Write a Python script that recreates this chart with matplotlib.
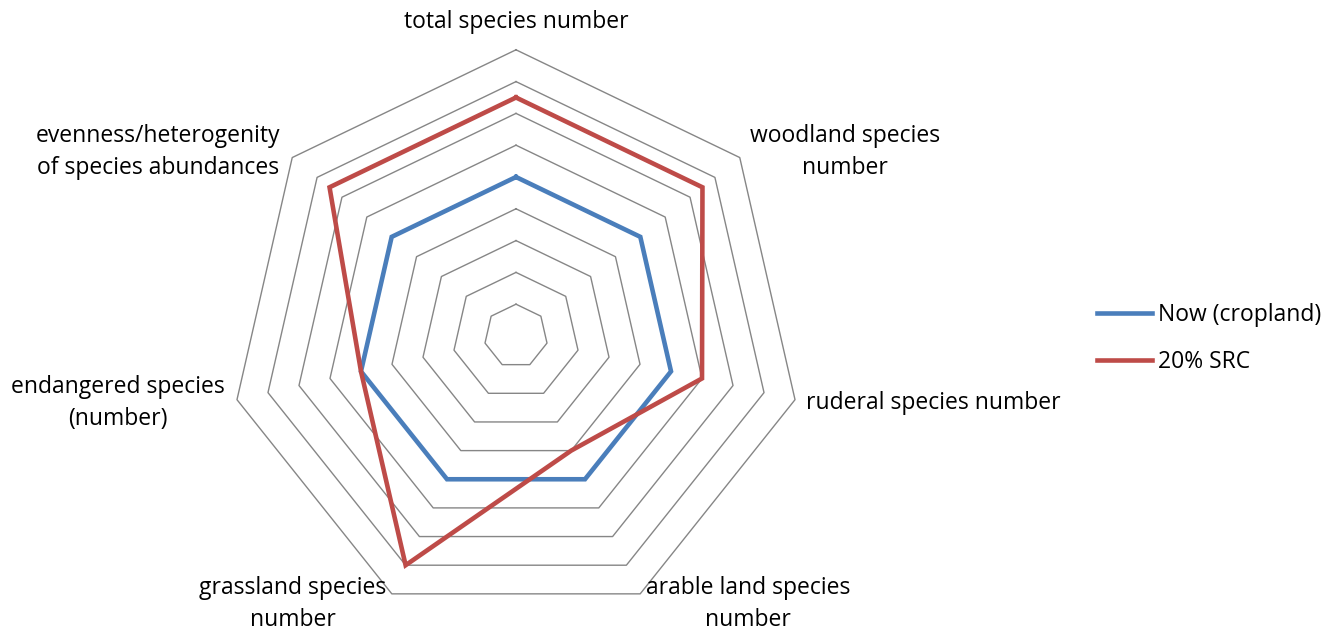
import numpy as np
import matplotlib
matplotlib.use("Agg")
import matplotlib.pyplot as plt

plt.rcParams['font.family'] = ['Open Sans', 'DejaVu Sans']

# categories, clockwise from the top
categories = [
    "total species number",
    "woodland species\nnumber",
    "ruderal species number",
    "arable land species\nnumber",
    "grassland species\nnumber",
    "endangered species\n(number)",
    "evenness/heterogenity\nof species abundances",
]
now_cropland = [5, 5, 5, 5, 5, 5, 5]
src_20 = [7.5, 7.5, 6, 4, 8, 5, 7.5]
series_names = ["Now (cropland)", "20% SRC"]
grid_levels = [1, 2, 3, 4, 5, 6, 7, 8, 9]

W, H = 1327, 632
cx, cy = 516, 336      # chart centre in pixels
unit = 31.8            # pixels per value unit

fig = plt.figure(figsize=(W / 100, H / 100), dpi=100)
ax = fig.add_axes([0, 0, 1, 1])
ax.set_xlim(-cx / unit, (W - cx) / unit)
ax.set_ylim(-(H - cy) / unit, cy / unit)
ax.axis("off")

n = len(categories)
theta = 2 * np.pi * np.arange(n) / n


def to_xy(values):
    v = np.asarray(values, dtype=float)
    v = np.append(v, v[0])
    t = np.append(theta, theta[0])
    return v * np.sin(t), v * np.cos(t)


# polygon gridlines
for lev in grid_levels:
    gx, gy = to_xy([lev] * n)
    ax.plot(gx, gy, color="#868686", lw=1.0, zorder=1)

colors = ["#4A7EBB", "#BE4B48"]
for vals, name, col in zip([now_cropland, src_20], series_names, colors):
    x, y = to_xy(vals)
    ax.plot(x, y, color=col, lw=3.3, label=name, zorder=3,
            solid_joinstyle="miter")

# category labels (pixel anchors)
label_pos = [(516, 22), (845, 152), (933, 403), (748, 604),
             (293, 604), (118, 403), (158, 152)]
for text, (px, py) in zip(categories, label_pos):
    fig.text(px / W, 1 - py / H, text, ha="center", va="center",
             fontsize=16.5, color="#000000", linespacing=1.45)

ax.legend(loc="center left", bbox_to_anchor=(1097 / W, 1 - 338.5 / H),
          bbox_transform=fig.transFigure, frameon=False, fontsize=16.5,
          borderpad=0, borderaxespad=0, handlelength=2.4,
          handletextpad=0.26, labelspacing=1.0)

fig.savefig("out.png", dpi=100)
